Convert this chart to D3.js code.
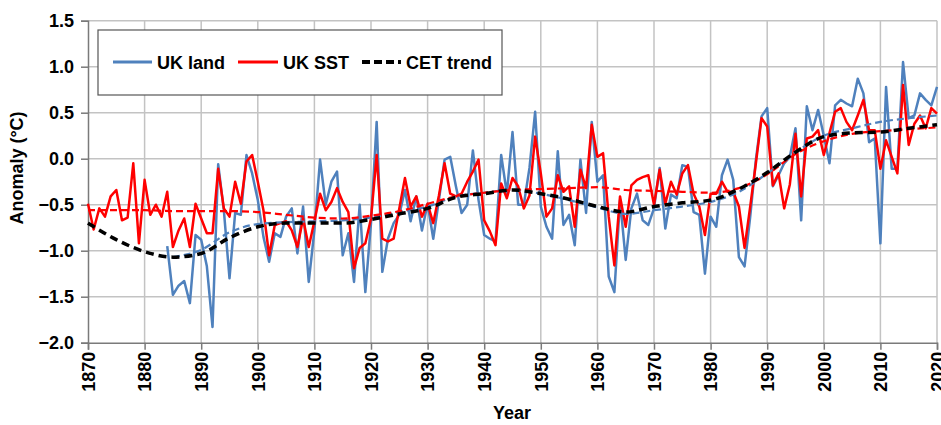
<!DOCTYPE html>
<html><head><meta charset="utf-8">
<script src="https://cdn.jsdelivr.net/npm/d3@7"></script>
<style>
html,body{margin:0;padding:0;background:#fff;}
svg{display:block;font-family:"Liberation Sans",Arial,sans-serif;}
</style></head>
<body><svg id="chart" width="941" height="425"></svg>
<script>
// ---- data ----
const sstStart = 1870;
const sstValues = [
-0.49,-0.77,-0.54,-0.63,-0.41,-0.34,-0.67,-0.64,-0.05,-0.92,
-0.23,-0.61,-0.50,-0.63,-0.36,-0.96,-0.78,-0.65,-0.96,-0.49,
-0.65,-0.81,-0.81,-0.11,-0.54,-0.63,-0.25,-0.49,-0.03,0.04,
-0.25,-0.56,-1.05,-0.72,-0.70,-0.68,-0.78,-0.96,-0.65,-0.96,
-0.68,-0.38,-0.56,-0.47,-0.32,-0.47,-0.58,-1.19,-0.97,-0.92,
-0.65,0.04,-0.87,-0.90,-0.87,-0.54,-0.21,-0.52,-0.41,-0.63,
-0.49,-0.70,-0.40,-0.05,-0.38,-0.41,-0.38,-0.25,-0.14,-0.01,
-0.67,-0.79,-0.94,-0.27,-0.43,-0.21,-0.30,-0.54,-0.40,0.24,
-0.16,-0.63,-0.54,-0.18,-0.36,-0.30,-0.74,-0.12,-0.32,0.37,
0.02,0.06,-0.63,-1.16,-0.41,-0.74,-0.29,-0.23,-0.20,-0.18,
-0.50,-0.12,-0.49,-0.25,-0.39,-0.16,-0.07,-0.38,-0.52,-0.83,
-0.38,-0.38,-0.25,-0.36,-0.36,-0.52,-0.97,-0.52,-0.05,0.44,
0.35,-0.29,-0.16,-0.54,-0.28,0.27,-0.41,0.22,0.24,0.31,
0.04,0.28,0.51,0.55,0.40,0.31,0.47,0.64,0.31,0.31,
-0.11,0.20,0.02,-0.16,0.80,0.15,0.38,0.47,0.33,0.55,
0.49];
const landStart = 1884;
const landValues = [
-0.95,-1.48,-1.38,-1.33,-1.57,-0.83,
-0.88,-1.17,-1.83,-0.06,-0.56,-1.30,-0.59,-0.61,0.04,-0.16,
-0.45,-0.85,-1.12,-0.81,-0.85,-0.63,-0.54,-1.03,-0.52,-1.34,
-0.78,-0.01,-0.50,-0.25,-0.14,-1.05,-0.81,-1.34,-0.50,-1.45,
-0.70,0.40,-1.23,-0.87,-0.70,-0.61,-0.34,-0.68,-0.41,-0.78,
-0.49,-0.87,-0.45,-0.01,0.02,-0.30,-0.59,-0.50,0.09,-0.45,
-0.83,-0.87,-0.90,0.04,-0.38,0.29,-0.50,-0.50,-0.10,0.51,
-0.52,-0.74,-0.87,0.08,-0.72,-0.61,-0.94,-0.01,-0.59,0.40,
-0.25,-0.18,-1.28,-1.45,-0.45,-1.10,-0.54,-0.38,-0.67,-0.72,
-0.54,-0.10,-0.76,-0.39,-0.43,-0.07,-0.09,-0.58,-0.61,-1.25,
-0.63,-0.74,-0.18,-0.01,-0.23,-1.07,-1.17,-0.63,-0.01,0.46,
0.55,-0.30,-0.18,-0.05,0.02,0.33,-0.67,0.57,0.31,0.53,
0.25,-0.05,0.58,0.64,0.60,0.57,0.87,0.71,0.18,0.22,
-0.92,0.78,-0.11,-0.11,1.05,0.44,0.47,0.71,0.64,0.58,
0.78];
const trendYears = [1870,1875,1880,1885,1890,1895,1900,1905,1910,1915,1920,1925,1930,1935,1940,1945,1950,1955,1960,1965,1970,1975,1980,1985,1990,1995,2000,2005,2010,2015,2020];
const cetTrend = [-0.70,-0.88,-1.01,-1.07,-1.03,-0.86,-0.74,-0.70,-0.70,-0.70,-0.66,-0.60,-0.54,-0.42,-0.38,-0.34,-0.38,-0.44,-0.52,-0.58,-0.52,-0.48,-0.45,-0.33,-0.15,0.07,0.24,0.28,0.29,0.33,0.37];
const sstTrend = [-0.56,-0.56,-0.56,-0.57,-0.57,-0.57,-0.58,-0.61,-0.64,-0.65,-0.62,-0.57,-0.49,-0.41,-0.37,-0.34,-0.33,-0.32,-0.31,-0.34,-0.35,-0.36,-0.37,-0.32,-0.17,0.05,0.19,0.27,0.30,0.32,0.34];
const landTrendYears = [1885,1890,1895,1900,1905,1910,1915,1920,1925,1930,1935,1940,1945,1950,1955,1960,1965,1970,1975,1980,1985,1990,1995,2000,2005,2010,2015,2020];
const landTrend = [-1.07,-0.99,-0.80,-0.71,-0.69,-0.68,-0.67,-0.64,-0.58,-0.52,-0.41,-0.37,-0.34,-0.38,-0.45,-0.53,-0.60,-0.56,-0.52,-0.47,-0.36,-0.16,0.07,0.25,0.33,0.40,0.44,0.47];
const xTicks = [1870,1880,1890,1900,1910,1920,1930,1940,1950,1960,1970,1980,1990,2000,2010,2020];
const yTicks = [-2.0,-1.5,-1.0,-0.5,0.0,0.5,1.0,1.5];
const legendItems = ["UK land","UK SST","CET trend"];

// ---- chart ----
const svg = d3.select("#chart");
const x = d3.scaleLinear().domain([1870,2020]).range([88,937]);
const y = d3.scaleLinear().domain([-2,1.5]).range([342.7,20.7]);

const fmt = v => (v < 0 ? "\u2212" : "") + Math.abs(v).toFixed(1);

// gridlines
svg.append("g").selectAll("line.v").data(xTicks.slice(1)).join("line")
  .attr("x1", d=>x(d)).attr("x2", d=>x(d)).attr("y1", y(1.5)).attr("y2", y(-2))
  .attr("stroke","#c3c3c3").attr("stroke-width",1.5);
svg.append("g").selectAll("line.h").data(yTicks.slice(1)).join("line")
  .attr("x1", x(1870)).attr("x2", x(2020)).attr("y1", d=>y(d)).attr("y2", d=>y(d))
  .attr("stroke","#c3c3c3").attr("stroke-width",1.5);

// axes
const yAxis = svg.append("g").attr("transform",`translate(${x(1870)},0)`)
  .call(d3.axisLeft(y).tickValues(yTicks).tickFormat(fmt).tickSize(7).tickPadding(7));
const xAxis = svg.append("g").attr("transform",`translate(0,${y(-2)})`)
  .call(d3.axisBottom(x).tickValues(xTicks).tickFormat(d3.format("d")).tickSize(7));
[yAxis,xAxis].forEach(g=>{
  g.select(".domain").attr("stroke","#7a7a7a").attr("stroke-width",1.5);
  g.selectAll(".tick line").attr("stroke","#7a7a7a").attr("stroke-width",1.5);
  g.selectAll("text").attr("fill","#000").attr("font-size",18).attr("font-weight","bold")
   .attr("font-family","'Liberation Sans',Arial,sans-serif");
});
xAxis.selectAll(".tick text")
  .attr("transform","rotate(-90)").attr("text-anchor","end")
  .attr("x",-9).attr("y",0).attr("dy","0.35em");

// series
const line = d3.line().x(d=>x(d[0])).y(d=>y(d[1]));
const smooth = d3.line().x(d=>x(d[0])).y(d=>y(d[1])).curve(d3.curveMonotoneX);
const landData = landValues.map((v,i)=>[landStart+i,v]);
const sstData = sstValues.map((v,i)=>[sstStart+i,v]);
const blue = "#4f81bd", red = "#ff0000";

svg.append("path").datum(landData).attr("d",line).attr("fill","none")
  .attr("stroke",blue).attr("stroke-width",2.5).attr("stroke-linejoin","round");
svg.append("path").datum(sstData).attr("d",line).attr("fill","none")
  .attr("stroke",red).attr("stroke-width",2.5).attr("stroke-linejoin","round");
svg.append("path").datum(landTrendYears.map((yr,i)=>[yr,landTrend[i]])).attr("d",smooth)
  .attr("fill","none").attr("stroke",blue).attr("stroke-width",2.2).attr("stroke-dasharray","7,4");
svg.append("path").datum(trendYears.map((yr,i)=>[yr,sstTrend[i]])).attr("d",smooth)
  .attr("fill","none").attr("stroke",red).attr("stroke-width",2.2).attr("stroke-dasharray","7,4");
svg.append("path").datum(trendYears.map((yr,i)=>[yr,cetTrend[i]])).attr("d",smooth)
  .attr("fill","none").attr("stroke","#000").attr("stroke-width",3.5).attr("stroke-dasharray","8,5");

// axis titles
svg.append("text").attr("transform","translate(23,168) rotate(-90)").attr("text-anchor","middle")
  .attr("font-size",18).attr("font-weight","bold").text("Anomaly (°C)");
svg.append("text").attr("x",512).attr("y",419).attr("text-anchor","middle")
  .attr("font-size",18).attr("font-weight","bold").text("Year");

// legend
const lg = svg.append("g");
lg.append("rect").attr("x",98).attr("y",30).attr("width",404).attr("height",65)
  .attr("fill","#fff").attr("stroke","#555").attr("stroke-width",1.2);
const legSpec = [
  {x1:113,x2:152,tx:157,color:blue,w:3,dash:null},
  {x1:238,x2:278,tx:283,color:red,w:3,dash:null},
  {x1:362,x2:401,tx:406,color:"#000",w:4,dash:"8,4"}
];
legendItems.forEach((name,i)=>{
  const s = legSpec[i];
  lg.append("line").attr("x1",s.x1).attr("x2",s.x2).attr("y1",62).attr("y2",62)
    .attr("stroke",s.color).attr("stroke-width",s.w).attr("stroke-dasharray",s.dash);
  lg.append("text").attr("x",s.tx).attr("y",68.5).attr("font-size",18).attr("font-weight","bold")
    .text(name);
});
</script></body></html>
